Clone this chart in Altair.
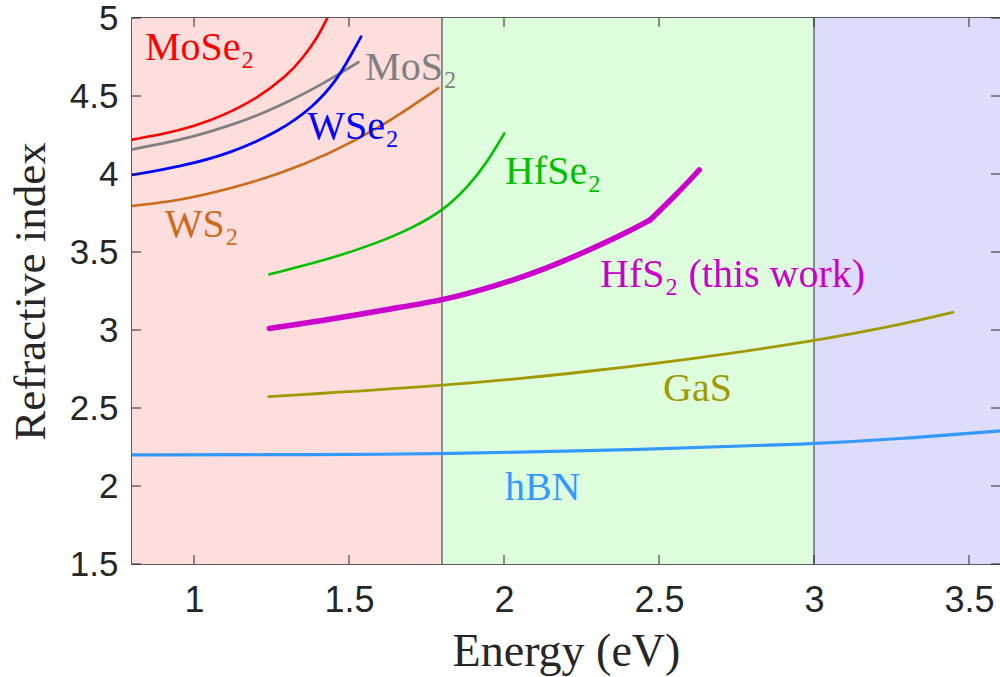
import altair as alt
import pandas as pd

# ---- data ----
mose2_x = [0.80, 0.90, 1.00, 1.10, 1.20, 1.30, 1.35, 1.40, 1.43]
mose2_y = [4.22, 4.255, 4.305, 4.38, 4.48, 4.63, 4.74, 4.88, 5.00]

mos2_x = [0.80, 0.90, 1.00, 1.10, 1.20, 1.30, 1.40, 1.50, 1.53]
mos2_y = [4.158, 4.195, 4.24, 4.30, 4.37, 4.46, 4.56, 4.68, 4.716]

wse2_x = [0.80, 0.955, 1.116, 1.277, 1.385, 1.46, 1.503, 1.539]
wse2_y = [3.994, 4.047, 4.13, 4.275, 4.43, 4.60, 4.75, 4.88]

ws2_x = [0.80, 0.955, 1.116, 1.277, 1.439, 1.60, 1.707, 1.788]
ws2_y = [3.795, 3.83, 3.905, 4.00, 4.13, 4.30, 4.44, 4.55]

hfse2_x = [1.243, 1.428, 1.589, 1.70, 1.804, 1.885, 1.944, 2.001]
hfse2_y = [3.357, 3.449, 3.556, 3.65, 3.765, 3.92, 4.07, 4.26]

# HfS2 is drawn as a smooth part and a straight final part (visible kink near 2.47 eV)
hfs2_x = [1.243, 1.428, 1.643, 1.804, 1.966, 2.127, 2.288, 2.396, 2.471, 2.557, 2.63]
hfs2_y = [3.01, 3.064, 3.139, 3.19, 3.278, 3.385, 3.524, 3.625, 3.705, 3.87, 4.026]
hfs2_kink = 8  # index of the kink point

gas_x = [1.241, 1.805, 2.226, 2.584, 3.008, 3.30, 3.448]
gas_y = [2.573, 2.641, 2.722, 2.808, 2.93, 3.043, 3.113]

hbn_x = [0.80, 1.40, 1.805, 2.405, 3.008, 3.30, 3.60]
hbn_y = [2.199, 2.201, 2.205, 2.231, 2.269, 2.306, 2.353]

series_names = ["MoSe2", "MoS2", "WSe2", "WS2", "HfSe2", "HfS2", "GaS", "hBN"]
series_colors = ["#FF0000", "#808080", "#0000FF", "#CC6A1A", "#00C000", "#CC00CC", "#A09A00", "#3399FF"]
series_widths = [2.6, 2.8, 2.8, 2.6, 2.6, 5.5, 2.8, 3.2]

label_text = ["MoSe₂", "MoS₂", "WSe₂", "WS₂", "HfSe₂", "HfS₂ (this work)", "GaS", "hBN"]
label_x = [0.842, 1.552, 1.365, 0.906, 2.003, 2.31, 2.513, 2.003]
label_y = [4.81, 4.68, 4.30, 3.67, 4.01, 3.35, 2.62, 1.99]

band_start = [0.8, 1.8, 3.0]
band_end = [1.8, 3.0, 3.6]
band_color = ["#FDDEDD", "#DDFDDD", "#DDDDFB"]
divider_x = [1.8, 3.0]

x_ticks = [1, 1.5, 2, 2.5, 3, 3.5]
y_ticks = [1.5, 2, 2.5, 3, 3.5, 4, 4.5, 5]

# ---- build tables ----
all_x = [mose2_x, mos2_x, wse2_x, ws2_x, hfse2_x, hfs2_x, gas_x, hbn_x]
all_y = [mose2_y, mos2_y, wse2_y, ws2_y, hfse2_y, hfs2_y, gas_y, hbn_y]
rows = []
for name, col, w, xs_, ys_ in zip(series_names, series_colors, series_widths, all_x, all_y):
    pts = list(zip(xs_, ys_))
    if name == "HfS2":
        parts = [("HfS2a", pts[:hfs2_kink + 1]), ("HfS2b", pts[hfs2_kink:])]
    else:
        parts = [(name, pts)]
    for pname, ppts in parts:
        for i, (a, b) in enumerate(ppts):
            rows.append({"series": pname, "E": a, "n": b, "color": col, "w": w, "order": i})
lines_df = pd.DataFrame(rows)

labels_df = pd.DataFrame({"text": label_text, "E": label_x, "n": label_y, "color": series_colors})
bands_df = pd.DataFrame({"a": band_start, "b": band_end, "color": band_color})
div_df = pd.DataFrame({"E": divider_x})
xt_df = pd.DataFrame({"E": x_ticks})
yt_df = pd.DataFrame({"n": y_ticks})

W, H = 868, 546
xs = alt.Scale(domain=[0.8, 3.6], nice=False, zero=False)
ys = alt.Scale(domain=[1.5, 5], nice=False, zero=False)

TICKFONT = "Liberation Sans"
SERIF = "Liberation Serif"

x_axis = alt.Axis(values=x_ticks, format="~g", title="Energy (eV)", grid=False, ticks=False,
                  labelFont=TICKFONT, labelFontSize=36, labelColor="#262626",
                  labelPadding=19, domain=False,
                  titleFont=SERIF, titleFontSize=46, titleFontWeight="normal",
                  titleColor="#262626", titleY=101, titleBaseline="alphabetic")
y_axis = alt.Axis(values=y_ticks, format="~g", title="Refractive index", grid=False, ticks=False,
                  labelFont=TICKFONT, labelFontSize=35, labelColor="#262626",
                  labelPadding=14, domain=False,
                  titleFont=SERIF, titleFontSize=45, titleFontWeight="normal",
                  titleColor="#262626", titleX=-88, titleBaseline="alphabetic")

bands = alt.Chart(bands_df).mark_rect().encode(
    x=alt.X("a:Q", scale=xs, axis=x_axis),
    x2="b:Q",
    y=alt.value(0), y2=alt.value(H),
    color=alt.Color("color:N", scale=None),
)

dividers = alt.Chart(div_df).mark_rule(color="#4d4d4d", strokeWidth=1.2).encode(
    x=alt.X("E:Q", scale=xs),
    y=alt.value(0), y2=alt.value(H),
)

lines = alt.Chart(lines_df).mark_line(interpolate="basis", clip=True, strokeCap="round",
                                      strokeJoin="round").encode(
    x=alt.X("E:Q", scale=xs),
    y=alt.Y("n:Q", scale=ys, axis=y_axis),
    detail="series:N",
    order="order:Q",
    color=alt.Color("color:N", scale=None),
    strokeWidth=alt.StrokeWidth("w:Q", scale=None),
)

labels = alt.Chart(labels_df).mark_text(align="left", baseline="middle", font=SERIF, fontSize=40).encode(
    x=alt.X("E:Q", scale=xs),
    y=alt.Y("n:Q", scale=ys),
    text="text:N",
    color=alt.Color("color:N", scale=None),
)

tick_style = dict(color="#262626", strokeWidth=1)
bottom_ticks = alt.Chart(xt_df).mark_rule(**tick_style).encode(
    x=alt.X("E:Q", scale=xs), y=alt.value(H), y2=alt.value(H - 9))
top_ticks = alt.Chart(xt_df).mark_rule(**tick_style).encode(
    x=alt.X("E:Q", scale=xs), y=alt.value(0), y2=alt.value(9))
left_ticks = alt.Chart(yt_df).mark_rule(**tick_style).encode(
    y=alt.Y("n:Q", scale=ys), x=alt.value(0), x2=alt.value(9))
right_ticks = alt.Chart(yt_df).mark_rule(**tick_style).encode(
    y=alt.Y("n:Q", scale=ys), x=alt.value(W), x2=alt.value(W - 9))

chart = alt.layer(bands, dividers, lines, labels, bottom_ticks, top_ticks, left_ticks, right_ticks).properties(
    width=W, height=H,
    autosize=alt.AutoSizeParams(type="none"),
    padding={"left": 132, "top": 18, "right": 0, "bottom": 113},
    background="white",
).configure_view(stroke="#262626", strokeWidth=1.5)

chart.save("out.html", embed_options={"renderer": "svg", "actions": False})
